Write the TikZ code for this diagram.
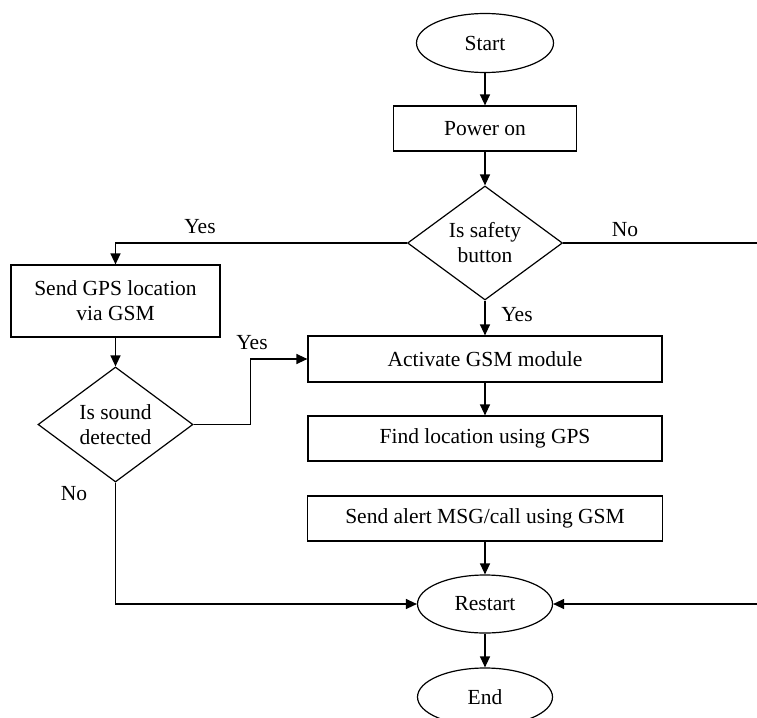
\documentclass[tikz,border=0pt]{standalone}
\usepackage{fontspec}
\setmainfont{Liberation Serif}
\usetikzlibrary{shapes.geometric,arrows.meta}
\begin{document}
\begin{tikzpicture}[x=1pt,y=-1pt,
  every node/.style={font=\fontsize{21.5}{25}\selectfont},
  line/.style={line width=1.3pt, draw=black},
  arr/.style={line, -{Triangle[length=11pt,width=10pt]}},
  term/.style={ellipse, draw, line width=1.2pt, inner sep=0pt},
  procbox/.style={rectangle, draw, line width=1.2pt, inner sep=0pt, align=center},
  decision/.style={diamond, draw, line width=1.2pt, inner sep=0pt, shape aspect=1.36, align=center},
  lbl/.style={inner sep=0pt}
]
\useasboundingbox (0,0) rectangle (757,717);
\clip (0,0) rectangle (757,717);

\node[term, minimum width=137pt, minimum height=59pt] (start) at (485,43) {Start};
\node[procbox, minimum width=183pt, minimum height=45pt] (power) at (485,128.5) {Power on};
\node[decision, minimum width=155pt, minimum height=114pt] (safety) at (485,243) {Is safety\\button};
\node[procbox, minimum width=209pt, minimum height=72pt] (gps) at (115.5,301) {Send GPS location\\via GSM};
\node[decision, minimum width=155pt, minimum height=115pt] (sound) at (115.5,424.5) {Is sound\\detected};
\node[procbox, minimum width=354pt, minimum height=46pt] (activate) at (485,359) {Activate GSM module};
\node[procbox, minimum width=354pt, minimum height=45pt] (find) at (485,438.5) {Find location using GPS};
\node[procbox, minimum width=355pt, minimum height=45pt] (alert) at (485,518.5) {Send alert MSG/call using GSM};
\node[term, minimum width=135pt, minimum height=58pt] (restart) at (485,604) {Restart};
\node[term, minimum width=135pt, minimum height=58pt] (end) at (485,697) {End};

\coordinate (rightA) at (757,243);
\coordinate (rightB) at (757,604);

\draw[arr] (start) -- (power);
\draw[arr] (power) -- (safety);
\draw[arr] (safety.west) -| (gps.north);
\draw[line] (safety.east) -- (rightA);
\draw[arr] (safety.south) -- (activate.north);
\draw[arr] (gps.south) -- (sound.north);
\draw[arr] (sound.east) -- ++(57,0) |- (activate.west);
\draw[arr] (activate) -- (find);
\draw[arr] (alert) -- (restart);
\draw[arr] (sound.south) |- (restart.west);
\draw[arr] (rightB) -- (restart.east);
\draw[arr] (restart) -- (end);

\node[lbl] (lyes1) at (200,227) {Yes};
\node[lbl] (lno1) at (625,230) {No};
\node[lbl] (lyes2) at (517,315) {Yes};
\node[lbl] (lyes3) at (252,343) {Yes};
\node[lbl] (lno2) at (74,494) {No};
\end{tikzpicture}
\end{document}
